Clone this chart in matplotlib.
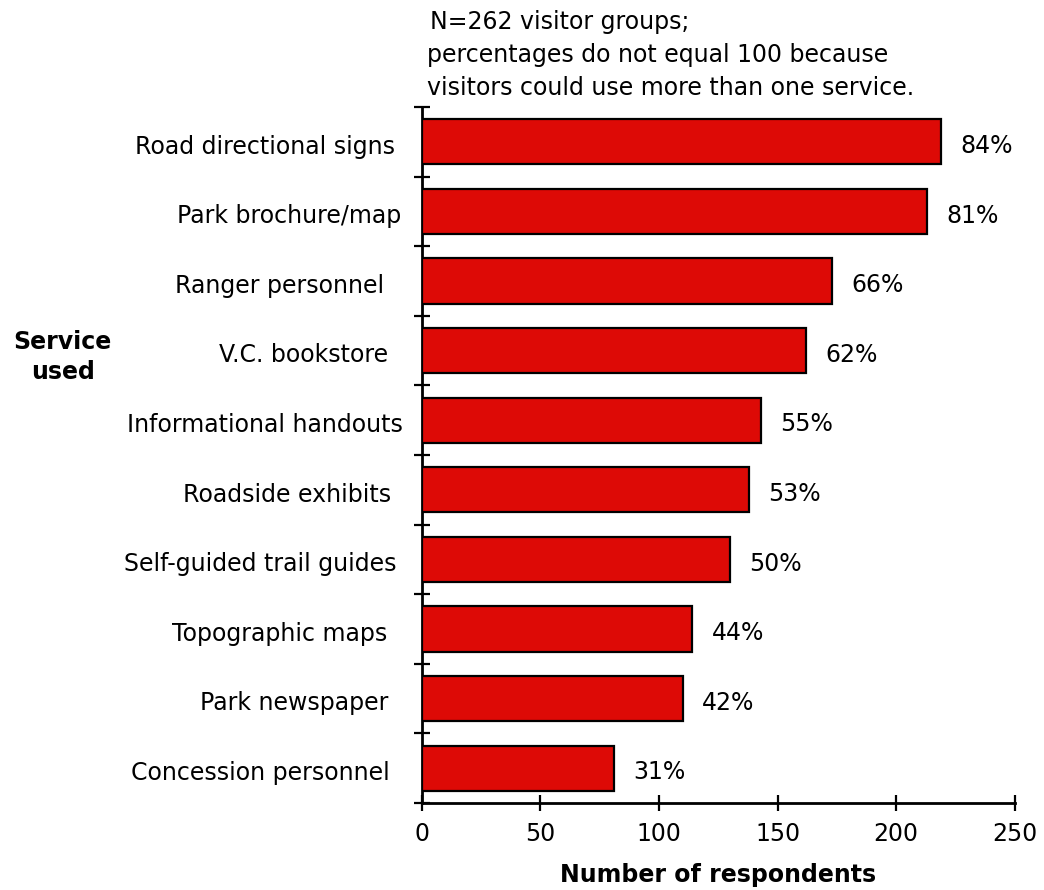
import matplotlib
matplotlib.use("Agg")
import matplotlib.pyplot as plt
import numpy as np

plt.rcParams['font.family'] = ['DejaVu Sans']

services = [
    "Road directional signs",
    "Park brochure/map",
    "Ranger personnel",
    "V.C. bookstore",
    "Informational handouts",
    "Roadside exhibits",
    "Self-guided trail guides",
    "Topographic maps",
    "Park newspaper",
    "Concession personnel",
]
respondents = [219, 213, 173, 162, 143, 138, 130, 114, 110, 81]
percent_labels = ["84%", "81%", "66%", "62%", "55%", "53%", "50%", "44%", "42%", "31%"]
x_ticks = [0, 50, 100, 150, 200, 250]
note_lines = [
    "N=262 visitor groups;",
    "percentages do not equal 100 because",
    "visitors could use more than one service.",
]

# horizontal centre of each category label, in data units left of zero
label_centres = [-66, -56, -60, -50, -66, -57, -68, -60, -54, -68]

FS = 17

fig = plt.figure(figsize=(10.44, 8.90), dpi=100)
ax = fig.add_axes([0.404, 0.0978, 0.568, 0.782])

n = len(services)
ypos = np.arange(n)[::-1]
ax.barh(ypos, respondents, height=0.65, color="#DD0A06",
        edgecolor="black", linewidth=1.6, zorder=3)

for y, v, lab in zip(ypos, respondents, percent_labels):
    ax.annotate(lab, xy=(v, y), xytext=(14, -3), textcoords="offset points",
                ha="left", va="center", fontsize=FS)

for y, lab, cx in zip(ypos, services, label_centres):
    ax.text(cx, y - 0.07, lab, ha="center", va="center", fontsize=FS,
            clip_on=False)

ax.set_xlim(0, 250)
ax.set_ylim(-0.5, n - 0.5)
ax.set_xticks(x_ticks)
ax.set_xticklabels([str(t) for t in x_ticks], fontsize=FS)
ax.set_yticks(np.arange(-0.5, n, 1.0))
ax.set_yticklabels([])

ax.tick_params(axis="both", direction="inout", length=12, width=1.6)
ax.tick_params(axis="x", pad=8)
for side in ("top", "right"):
    ax.spines[side].set_visible(False)
for side in ("left", "bottom"):
    ax.spines[side].set_linewidth(2.0)

ax.set_xlabel("Number of respondents", fontsize=FS, fontweight="bold",
              labelpad=12)

fig.text(0.06, 0.599, "Service\nused", ha="center", va="center",
         fontsize=FS, fontweight="bold", linespacing=1.3)

note_y = [0.9753, 0.9382, 0.9011]
note_x = [0.412, 0.409, 0.409]
for tx, ty, line in zip(note_x, note_y, note_lines):
    fig.text(tx, ty, line, ha="left", va="center", fontsize=FS)

fig.savefig("out.png", dpi=100)
